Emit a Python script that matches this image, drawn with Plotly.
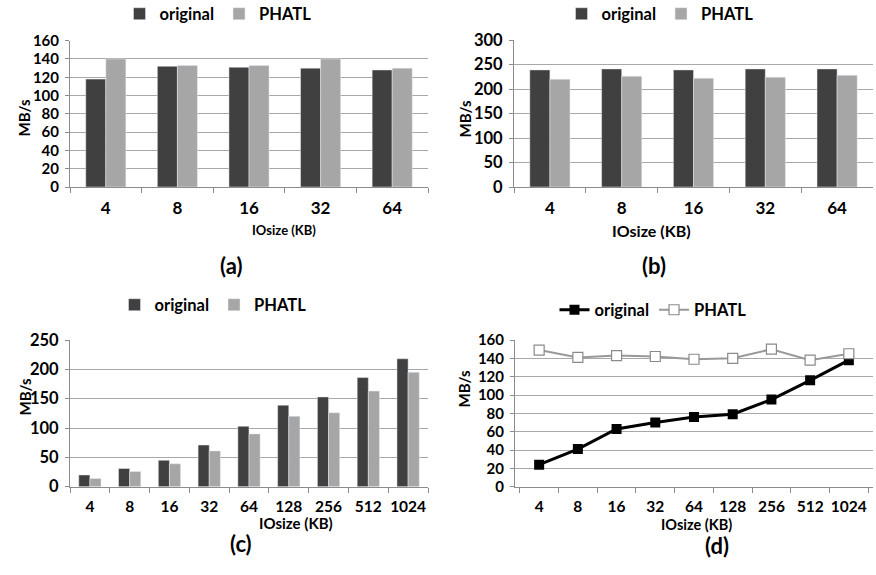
import plotly.graph_objects as go

W, H = 876, 575

# ---- data ----
cats_ab = ["4", "8", "16", "32", "64"]
a_original = [118, 132, 131, 130, 128]
a_phatl = [140, 133, 133, 140, 130]

b_original = [239, 241, 239, 241, 241]
b_phatl = [220, 226, 222, 224, 228]

cats_cd = ["4", "8", "16", "32", "64", "128", "256", "512", "1024"]
c_original = [20, 31, 45, 71, 103, 139, 153, 186, 218]
c_phatl = [14, 26, 39, 61, 90, 120, 126, 163, 195]

d_original = [24, 41, 63, 70, 76, 79, 95, 116, 138]
d_phatl = [149, 141, 143, 142, 139, 140, 150, 138, 145]

DARK = "#404040"
LIGHT = "#a6a6a6"
GRID = "#a8a8a8"
AXIS = "#8c8c8c"
FONT = "Lato"


def dx(px):
    return px / W


def dy(py):
    return 1 - py / H


fig = go.Figure()

panels = [
    ("a", "x", "y", "legend"),
    ("b", "x2", "y2", "legend2"),
    ("c", "x3", "y3", "legend3"),
    ("d", "x4", "y4", "legend4"),
]

# (a)
fig.add_trace(go.Bar(x=cats_ab, y=a_original, name="original", marker_color=DARK,
                     xaxis="x", yaxis="y", legend="legend"))
fig.add_trace(go.Bar(x=cats_ab, y=a_phatl, name="PHATL", marker_color=LIGHT,
                     xaxis="x", yaxis="y", legend="legend"))
# (b)
fig.add_trace(go.Bar(x=cats_ab, y=b_original, name="original", marker_color=DARK,
                     xaxis="x2", yaxis="y2", legend="legend2"))
fig.add_trace(go.Bar(x=cats_ab, y=b_phatl, name="PHATL", marker_color=LIGHT,
                     xaxis="x2", yaxis="y2", legend="legend2"))
# (c)
fig.add_trace(go.Bar(x=cats_cd, y=c_original, name="original", marker_color=DARK,
                     xaxis="x3", yaxis="y3", legend="legend3"))
fig.add_trace(go.Bar(x=cats_cd, y=c_phatl, name="PHATL", marker_color=LIGHT,
                     xaxis="x3", yaxis="y3", legend="legend3"))
# (d)
fig.add_trace(go.Scatter(x=cats_cd, y=d_original, name="original", mode="lines+markers",
                         line=dict(color="#000000", width=3),
                         marker=dict(symbol="square", size=10, color="#000000"),
                         xaxis="x4", yaxis="y4", legend="legend4"))
fig.add_trace(go.Scatter(x=cats_cd, y=d_phatl, name="PHATL", mode="lines+markers",
                         line=dict(color="#999999", width=2),
                         marker=dict(symbol="square", size=10, color="#ffffff",
                                     line=dict(color="#8a8a8a", width=1.2)),
                         xaxis="x4", yaxis="y4", legend="legend4"))

boxes = {
    "a": (70, 428, 40.7, 187, [0, 160], 20),
    "b": (514, 873, 40, 187, [0, 300], 50),
    "c": (70, 428, 340, 486.7, [0, 250], 50),
    "d": (515, 873, 340, 486.7, [0, 160], 20),
}

layout = dict(
    width=W, height=H,
    margin=dict(l=0, r=0, t=0, b=0, autoexpand=False),
    paper_bgcolor="white", plot_bgcolor="white",
    barmode="group", bargap=0.44, bargroupgap=0,
    font=dict(family=FONT, color="#000000", size=15, weight="bold"),
    showlegend=True,
)

for i, (key, xa, ya, lg) in enumerate(panels):
    x0, x1, ytop, ybot, rng, dt = boxes[key]
    suffix = "" if i == 0 else str(i + 1)
    xsize = 17 if key in ("a", "b") else 15.5
    ysize = 15 if key in ("a", "d") else 16.5
    layout["xaxis" + suffix] = dict(
        domain=[dx(x0), dx(x1)], anchor="y" + suffix, type="category",
        showline=True, linecolor=AXIS, linewidth=1,
        ticks="outside", tickson="boundaries", ticklen=5, tickcolor=AXIS,
        tickfont=dict(family=FONT, size=xsize, weight="bold"),
        showgrid=False, ticklabelstandoff=6, tickangle=0, automargin=False,
    )
    layout["yaxis" + suffix] = dict(
        domain=[dy(ybot), dy(ytop)], anchor="x" + suffix, range=rng, dtick=dt,
        showline=True, linecolor=AXIS, linewidth=1,
        ticks="outside", ticklen=4, tickcolor=AXIS,
        showgrid=True, gridcolor=GRID, gridwidth=1, zeroline=False,
        tickfont=dict(family=FONT, size=ysize, weight="bold"),
        ticklabelstandoff=3, automargin=False,
    )

legend_pos = {
    "legend": (218, 14),
    "legend2": (660, 14),
    "legend3": (213, 305),
    "legend4": (653, 310),
}
for lg, (px, py) in legend_pos.items():
    layout[lg] = dict(x=dx(px), y=dy(py), xanchor="center", yanchor="middle",
                      orientation="h", bgcolor="rgba(0,0,0,0)",
                      font=dict(family=FONT, size=16.5, weight="bold"),
                      itemwidth=30, tracegroupgap=0)

fig.update_layout(**layout)

ann = []
# y titles
for (px, py) in [(13, 98), (464, 99), (13, 418), (463, 410)]:
    ann.append(dict(x=dx(px), y=dy(py), xref="paper", yref="paper", text="MB/s",
                    textangle=-90, showarrow=False,
                    font=dict(family=FONT, size=15, weight="bold")))
# x titles
for (px, py, sz) in [(250, 230, 13), (693, 230, 16), (257, 534, 15), (734, 535, 14.5)]:
    ann.append(dict(x=dx(px), y=dy(py), xref="paper", yref="paper", text="IOsize (KB)",
                    showarrow=False, font=dict(family=FONT, size=sz, weight="bold")))
# panel labels
for (px, py, t) in [(218, 265, "(a)"), (668, 265, "(b)"), (228, 559, "(c)"), (731, 561, "(d)")]:
    ann.append(dict(x=dx(px), y=dy(py), xref="paper", yref="paper", text=t,
                    showarrow=False, font=dict(family=FONT, size=22, weight="bold")))
fig.update_layout(annotations=ann)

fig.write_html("out.html",
               config={"displayModeBar": False},
               post_script="document.body.style.margin='0px';document.body.style.overflow='hidden';")
